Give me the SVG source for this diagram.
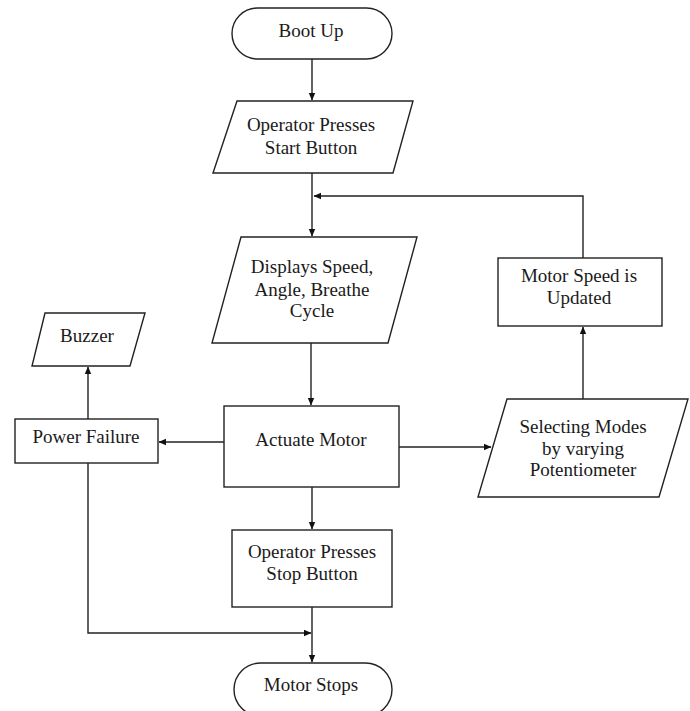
<svg xmlns="http://www.w3.org/2000/svg" width="690" height="711" viewBox="0 0 690 711">
<style>
.s{fill:#fff;stroke:#222;stroke-width:1.4}
.t{font-family:"Liberation Serif","Times New Roman",serif;font-size:19px;fill:#1a1a1a;text-anchor:middle}
.c{fill:none;stroke:#222;stroke-width:1.4}
</style>
<defs>
<marker id="ah" markerWidth="8" markerHeight="8" refX="7" refY="4" orient="auto" markerUnits="userSpaceOnUse">
<path d="M0,0.8 L7.5,4 L0,7.2 Z" fill="#111"/>
</marker>
</defs>
<rect width="690" height="711" fill="#fff"/>
<g id="connectors">
<path class="c" d="M312,59 V100" marker-end="url(#ah)"/>
<path class="c" d="M312,173 V236" marker-end="url(#ah)"/>
<path class="c" d="M583,258 V196 H314" marker-end="url(#ah)"/>
<path class="c" d="M311,343 V405" marker-end="url(#ah)"/>
<path class="c" d="M399,447 H491" marker-end="url(#ah)"/>
<path class="c" d="M583,399 V327" marker-end="url(#ah)"/>
<path class="c" d="M224,442 H159" marker-end="url(#ah)"/>
<path class="c" d="M88,419 V367" marker-end="url(#ah)"/>
<path class="c" d="M312,487 V529" marker-end="url(#ah)"/>
<path class="c" d="M312,607 V662" marker-end="url(#ah)"/>
<path class="c" d="M88,463 V633 H311" marker-end="url(#ah)"/>
</g>
<g id="boot-up">
<rect class="s" x="232" y="8" width="160" height="51" rx="25.5"/>
<text class="t" x="311" y="37">Boot Up</text>
</g>
<g id="start-button">
<polygon class="s" points="237,101 413,101 393,173 213,173"/>
<text class="t" x="311" y="131">Operator Presses</text>
<text class="t" x="311" y="154">Start Button</text>
</g>
<g id="displays">
<polygon class="s" points="241,237 417,237 388,343 212,343"/>
<text class="t" x="312" y="273">Displays Speed,</text>
<text class="t" x="312" y="296">Angle, Breathe</text>
<text class="t" x="312" y="317">Cycle</text>
</g>
<g id="motor-speed-updated">
<rect class="s" x="498" y="258" width="164" height="68"/>
<text class="t" x="579" y="282">Motor Speed is</text>
<text class="t" x="579" y="304">Updated</text>
</g>
<g id="buzzer">
<polygon class="s" points="45,313 145,313 130,366 32,366"/>
<text class="t" x="87" y="342">Buzzer</text>
</g>
<g id="power-failure">
<rect class="s" x="15" y="419" width="143" height="44"/>
<text class="t" x="86" y="443">Power Failure</text>
</g>
<g id="actuate-motor">
<rect class="s" x="224" y="406" width="175" height="81"/>
<text class="t" x="311" y="446">Actuate Motor</text>
</g>
<g id="selecting-modes">
<polygon class="s" points="507,399 688,399 659,497 478,497"/>
<text class="t" x="583" y="433">Selecting Modes</text>
<text class="t" x="583" y="455">by varying</text>
<text class="t" x="583" y="476">Potentiometer</text>
</g>
<g id="stop-button">
<rect class="s" x="232" y="530" width="160" height="77"/>
<text class="t" x="312" y="558">Operator Presses</text>
<text class="t" x="312" y="580">Stop Button</text>
</g>
<g id="motor-stops">
<rect class="s" x="234" y="663" width="158" height="53" rx="26.5"/>
<text class="t" x="311" y="691">Motor Stops</text>
</g>
</svg>
